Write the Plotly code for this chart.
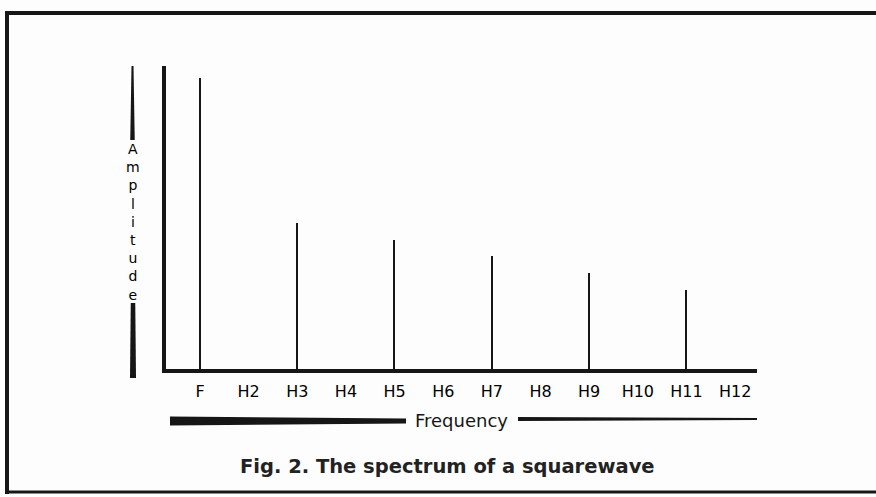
"""
Fig. 2 - the spectrum of a squarewave, redrawn with Plotly.
"""

import plotly.graph_objects as go

# harmonic labels along the frequency axis
harmonics = ["F", "H2", "H3", "H4", "H5", "H6", "H7", "H8", "H9", "H10", "H11", "H12"]
# relative amplitude (even harmonics are absent)
amplitude = [100, None, 50.2, None, 44.3, None, 38.8, None, 33.0, None, 27.1, None]

INK = '#161616'
PAPER = '#fdfdfd'

W, H = 876, 497
ML, MR, MT, MB = 166, 119, 66, 128
PW, PH = W - ML - MR, H - MT - MB


def px(x):
    # pixel column -> paper x
    return (x - ML) / PW


def py(y):
    # pixel row -> paper y
    return (H - MB - y) / PH


def wedge(x0, x1, y0, y1, w0, w1):
    """tapered bar from (x0,y0) width w0 to (x1,y1) width w1, in pixels"""
    if x0 == x1:
        pts = [(x0 - w0 / 2, y0), (x0 + w0 / 2, y0), (x1 + w1 / 2, y1), (x1 - w1 / 2, y1)]
    else:
        pts = [(x0, y0 - w0 / 2), (x1, y1 - w1 / 2), (x1, y1 + w1 / 2), (x0, y0 + w0 / 2)]
    path = 'M ' + ' L '.join(f'{px(a):.5f},{py(b):.5f}' for a, b in pts) + ' Z'
    return dict(type='path', xref='paper', yref='paper', path=path,
                fillcolor=INK, line=dict(width=0))


def rule(x0, y0, x1, y1, width):
    return dict(type='line', xref='paper', yref='paper',
                x0=px(x0), y0=py(y0), x1=px(x1), y1=py(y1),
                line=dict(color=INK, width=width))


fig = go.Figure()

fig.add_trace(go.Bar(
    x=harmonics,
    y=amplitude,
    width=0.035,
    marker=dict(color=INK, line=dict(width=0)),
    hovertemplate='%{x}: %{y}<extra></extra>',
    showlegend=False,
))

shapes = [
    # frame of the printed figure
    rule(7, 13, 880, 13, 4),
    rule(7, 11, 7, 494, 4),
    rule(5, 492, 880, 492, 3),
    # bars around the "Amplitude" label
    wedge(132.5, 132.5, 66, 140, 2, 4.5),
    wedge(133, 133, 303, 378, 4.5, 6),
    # bars around the "Frequency" label
    wedge(170, 406, 421, 421, 9, 5),
    wedge(518, 757, 419, 419, 4, 2),
]

annotations = [
    dict(text='<br>'.join('Amplitude'), xref='paper', yref='paper',
         x=px(133), y=py(222), xanchor='center', yanchor='middle',
         showarrow=False, font=dict(family='DejaVu Sans', size=14, color='#000000')),
    dict(text='Frequency', xref='paper', yref='paper',
         x=px(461), y=py(420), xanchor='center', yanchor='middle',
         showarrow=False, font=dict(family='DejaVu Sans', size=18, color=INK)),
    dict(text='<b>Fig. 2. The spectrum of a squarewave</b>', xref='paper', yref='paper',
         x=px(447), y=py(466), xanchor='center', yanchor='middle',
         showarrow=False, font=dict(family='DejaVu Sans', size=19.5, color='#222222')),
]

fig.update_layout(
    width=W,
    height=H,
    margin=dict(l=ML, r=MR, t=MT, b=MB),
    paper_bgcolor=PAPER,
    plot_bgcolor=PAPER,
    bargap=0,
    shapes=shapes,
    annotations=annotations,
    xaxis=dict(
        type='category',
        range=[-0.70, 11.45],
        showgrid=False, zeroline=False,
        showline=True, linecolor=INK, linewidth=4,
        ticks='', ticklabelstandoff=5,
        tickfont=dict(family='DejaVu Sans', size=16, color='#000000'),
    ),
    yaxis=dict(
        range=[0, 104.1],
        showgrid=False, zeroline=False,
        showline=True, linecolor=INK, linewidth=4,
        showticklabels=False, ticks='',
    ),
)

# drop the browser's default page margin so the figure sits at the window corner
fig.write_html("out.html", config={'displayModeBar': False},
               post_script="document.body.style.margin='0';")
